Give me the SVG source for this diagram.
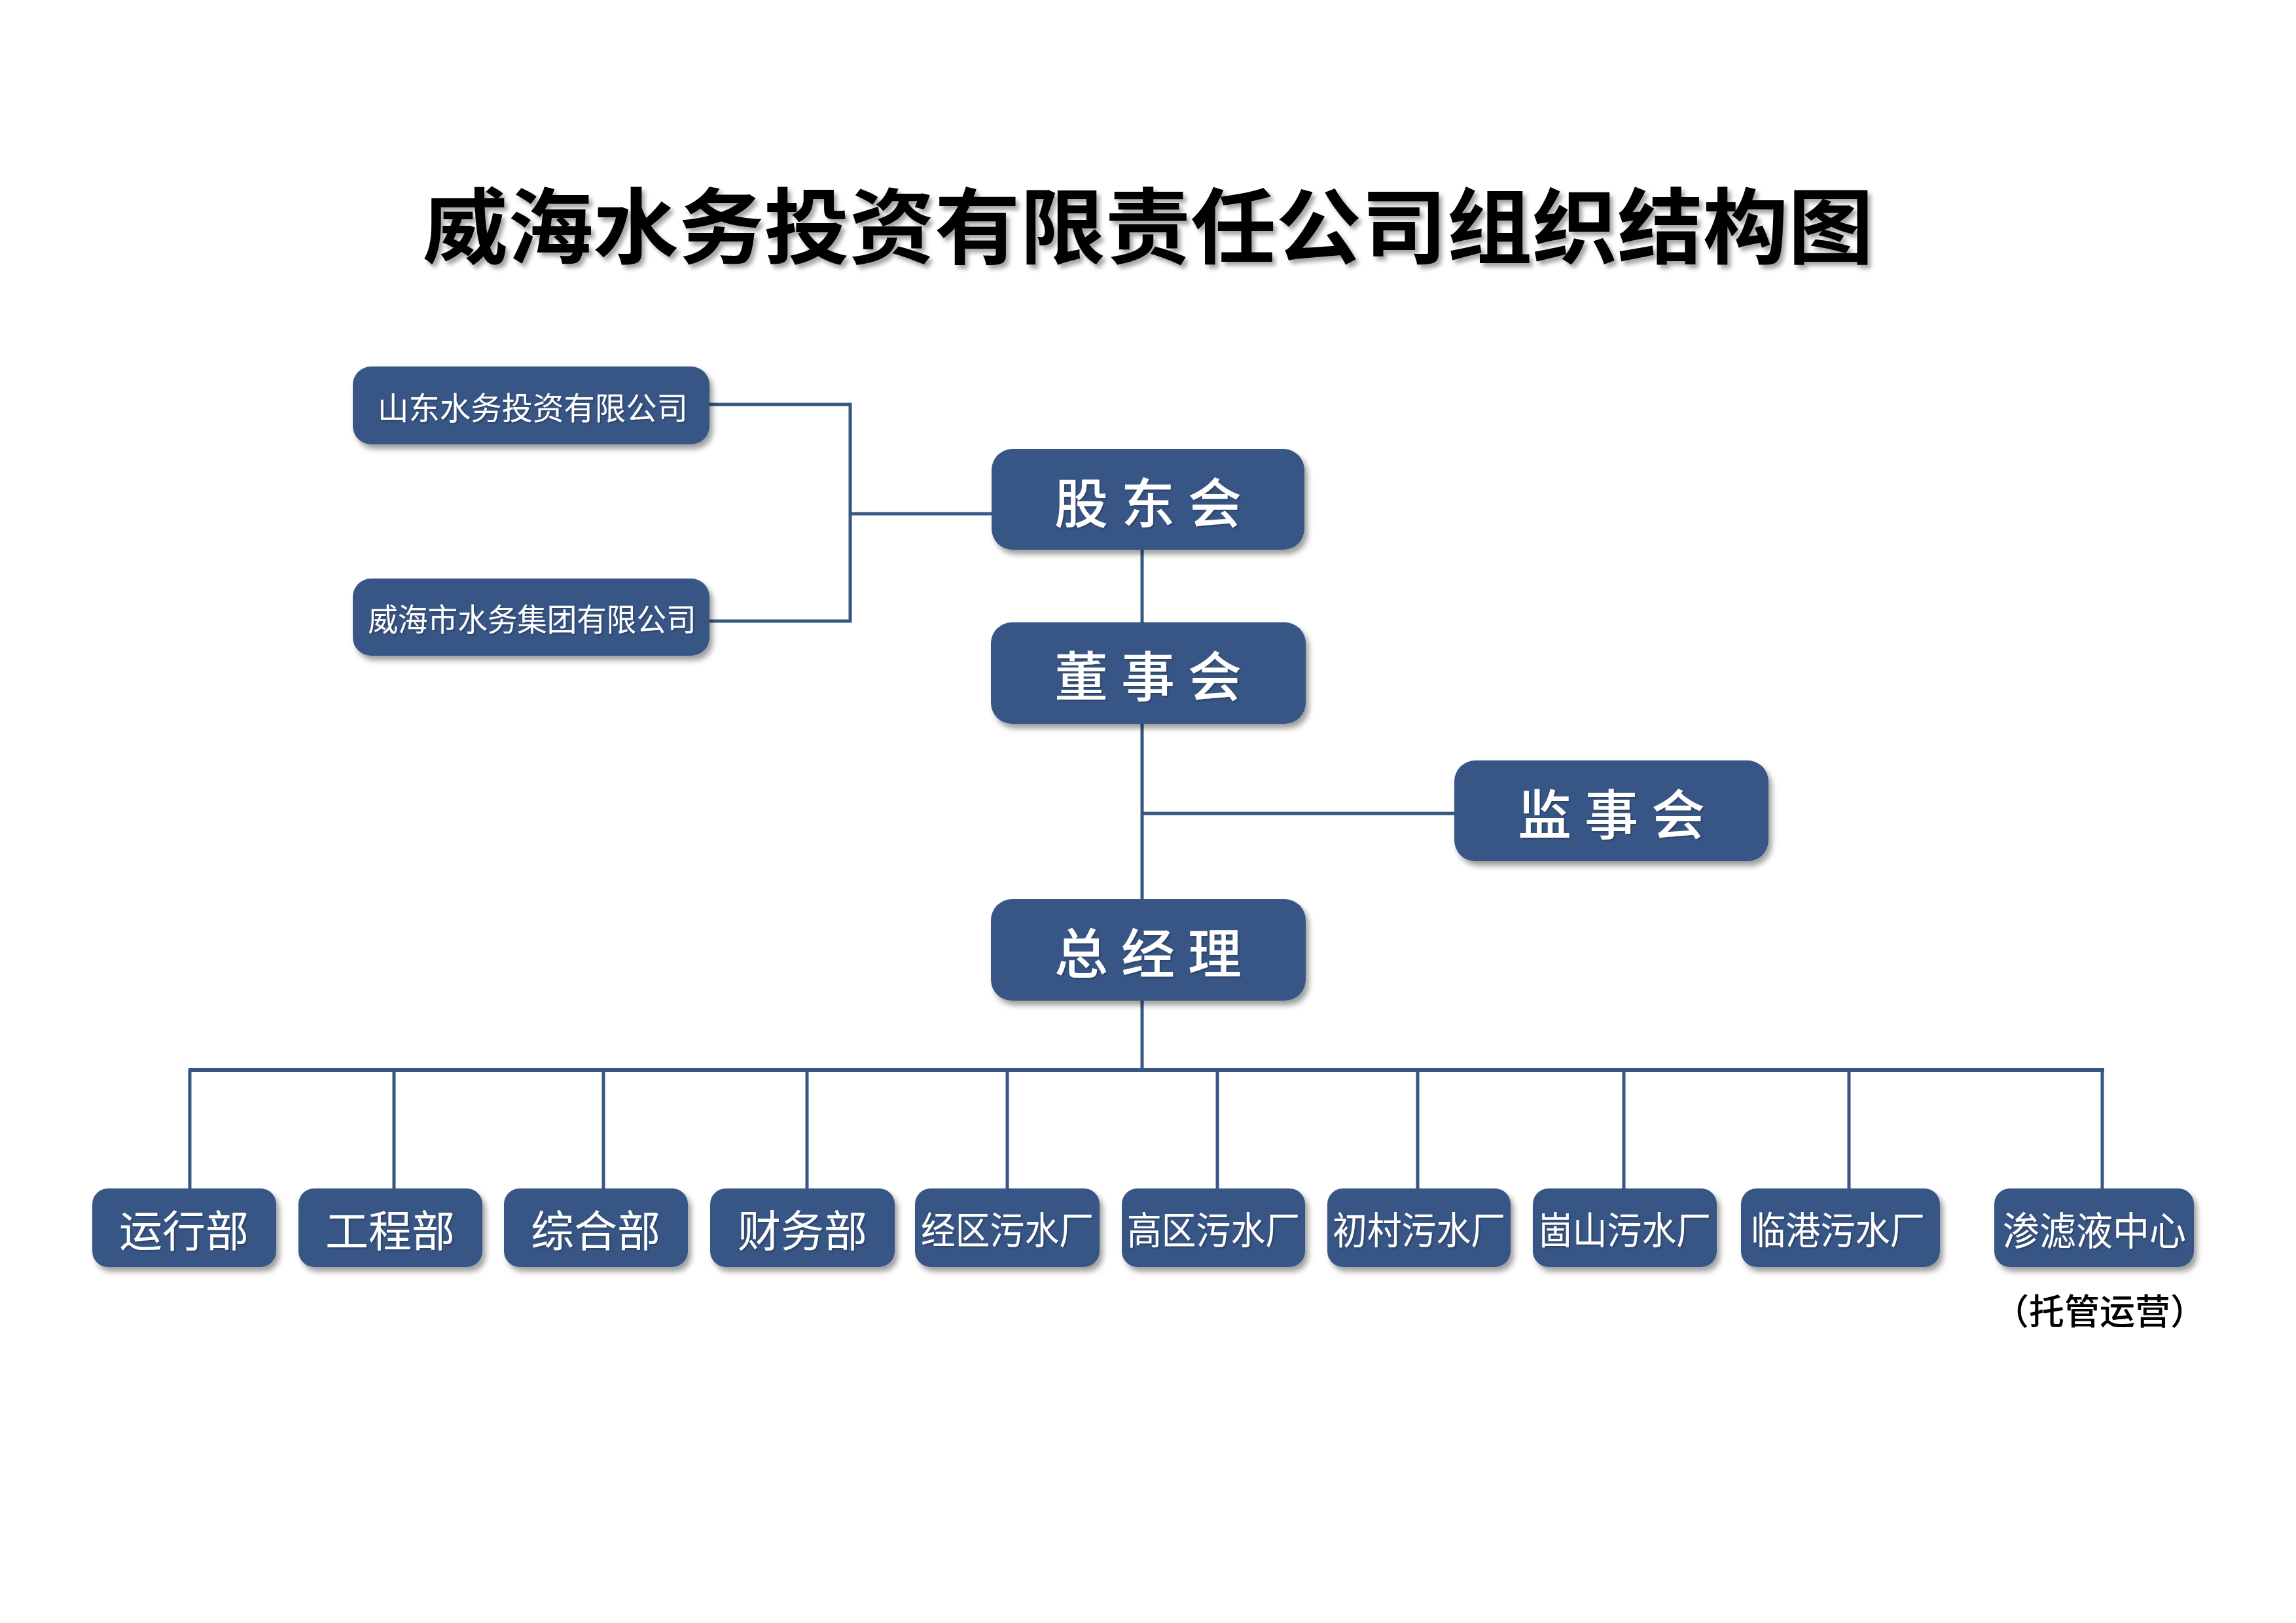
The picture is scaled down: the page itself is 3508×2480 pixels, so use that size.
<svg xmlns="http://www.w3.org/2000/svg" width="3508" height="2480" viewBox="0 0 3508 2480">
<defs>
<filter id="boxShadow" x="-10%" y="-10%" width="125%" height="135%">
<feDropShadow dx="5" dy="7" stdDeviation="4" flood-color="#000" flood-opacity="0.38"/>
</filter>
<filter id="txtShadow" x="-5%" y="-5%" width="115%" height="125%">
<feDropShadow dx="2" dy="2" stdDeviation="1" flood-color="#1a2a40" flood-opacity="0.5"/>
</filter>
<filter id="titleShadow" x="-5%" y="-10%" width="110%" height="130%">
<feDropShadow dx="5" dy="6" stdDeviation="3" flood-color="#000" flood-opacity="0.35"/>
</filter>
</defs>
<style>
.box{fill:#395785;filter:url(#boxShadow);}
.lbl{fill:#ffffff;font-family:"Noto Sans CJK SC","Noto Sans CJK JP",sans-serif;text-anchor:middle;dominant-baseline:central;filter:url(#txtShadow);}
.big{font-size:82px;font-weight:500;}
.sm{font-size:66px;font-weight:400;}
.sh{font-size:48px;font-weight:400;}
.ln{fill:none;stroke:#395785;stroke-width:5;}
.title{fill:#000;font-family:"Noto Sans CJK SC","Noto Sans CJK JP",sans-serif;font-size:126px;font-weight:700;text-anchor:middle;dominant-baseline:central;filter:url(#titleShadow);}
.note{fill:#000;font-family:"Noto Sans CJK SC","Noto Sans CJK JP",sans-serif;font-size:54px;font-weight:500;text-anchor:middle;dominant-baseline:central;}
</style>
<rect width="3508" height="2480" fill="#ffffff"/>
<text class="title" x="1754" y="338" textLength="2217" lengthAdjust="spacingAndGlyphs">威海水务投资有限责任公司组织结构图</text>
<g id="connectors">
<path class="ln" d="M1084 618 H1299 V949 H1084"/>
<path class="ln" d="M1299 785 H1515"/>
<path class="ln" d="M1745 840 V952"/>
<path class="ln" d="M1745 1106 V1374"/>
<path class="ln" d="M1745 1243 H2222"/>
<path class="ln" d="M1745 1529 V1635"/>
<path class="ln" style="stroke-width:6" d="M288 1635 H3215"/>
<path class="ln" d="M290 1635 V1816 M602 1635 V1816 M922 1635 V1816 M1233 1635 V1816 M1539 1635 V1816 M1860 1635 V1816 M2166 1635 V1816 M2481 1635 V1816 M2825 1635 V1816 M3212 1635 V1816"/>
</g>
<g id="sdsw">
<rect class="box" x="539" y="560" width="545" height="119" rx="28"/>
<text class="lbl sh" x="814" y="620" textLength="474" lengthAdjust="spacingAndGlyphs">山东水务投资有限公司</text>
</g>
<g id="whswjt">
<rect class="box" x="539" y="884" width="545" height="118" rx="28"/>
<text class="lbl sh" x="813" y="943" textLength="501" lengthAdjust="spacingAndGlyphs">威海市水务集团有限公司</text>
</g>
<g id="gudonghui">
<rect class="box" x="1515" y="686" width="478" height="154" rx="32"/>
<text class="lbl big" x="1652 1754 1856" y="763">股东会</text>
</g>
<g id="dongshihui">
<rect class="box" x="1514" y="951" width="481" height="155" rx="32"/>
<text class="lbl big" x="1652 1754 1856" y="1028">董事会</text>
</g>
<g id="jianshihui">
<rect class="box" x="2222" y="1162" width="480" height="154" rx="32"/>
<text class="lbl big" x="2360 2462 2564" y="1239">监事会</text>
</g>
<g id="zongjingli">
<rect class="box" x="1514" y="1374" width="481" height="155" rx="32"/>
<text class="lbl big" x="1652 1754 1856" y="1451">总经理</text>
</g>
<g id="yunxingbu">
<rect class="box" x="141" y="1816" width="281" height="120" rx="24"/>
<text class="lbl sm" x="281" y="1876">运行部</text>
</g>
<g id="gongchengbu">
<rect class="box" x="456" y="1816" width="281" height="120" rx="24"/>
<text class="lbl sm" x="596" y="1876">工程部</text>
</g>
<g id="zonghebu">
<rect class="box" x="770" y="1816" width="281" height="120" rx="24"/>
<text class="lbl sm" x="910" y="1876">综合部</text>
</g>
<g id="caiwubu">
<rect class="box" x="1085" y="1816" width="282" height="120" rx="24"/>
<text class="lbl sm" x="1226" y="1876">财务部</text>
</g>
<g id="jingqu">
<rect class="box" x="1398" y="1816" width="282" height="120" rx="24"/>
<text class="lbl sm" style="font-size:58px" x="1539" y="1876" textLength="264" lengthAdjust="spacingAndGlyphs">经区污水厂</text>
</g>
<g id="gaoqu">
<rect class="box" x="1714" y="1816" width="280" height="120" rx="24"/>
<text class="lbl sm" style="font-size:58px" x="1854" y="1876" textLength="264" lengthAdjust="spacingAndGlyphs">高区污水厂</text>
</g>
<g id="chucun">
<rect class="box" x="2028" y="1816" width="280" height="120" rx="24"/>
<text class="lbl sm" style="font-size:58px" x="2168" y="1876" textLength="264" lengthAdjust="spacingAndGlyphs">初村污水厂</text>
</g>
<g id="gushan">
<rect class="box" x="2342" y="1816" width="281" height="120" rx="24"/>
<text class="lbl sm" style="font-size:58px" x="2482" y="1876" textLength="264" lengthAdjust="spacingAndGlyphs">崮山污水厂</text>
</g>
<g id="lingang">
<rect class="box" x="2660" y="1816" width="304" height="120" rx="24"/>
<text class="lbl sm" style="font-size:58px" x="2808" y="1876" textLength="266" lengthAdjust="spacingAndGlyphs">临港污水厂</text>
</g>
<g id="shenlvye">
<rect class="box" x="3047" y="1816" width="305" height="120" rx="24"/>
<text class="lbl sm" style="font-size:60px" x="3200" y="1876" textLength="280" lengthAdjust="spacingAndGlyphs">渗滤液中心</text>
</g>
<text class="note" x="3208" y="2000">（托管运营）</text>
</svg>
